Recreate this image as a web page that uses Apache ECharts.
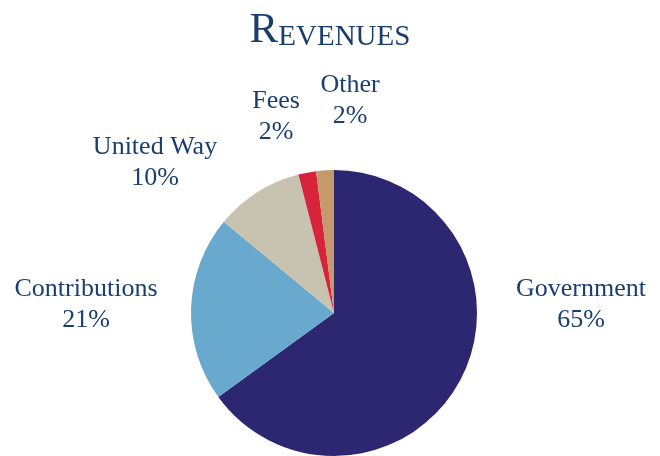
<!DOCTYPE html>
<html><head><meta charset="utf-8">
<script src="https://cdn.jsdelivr.net/npm/echarts@6/dist/echarts.min.js"></script>
<style>html,body{margin:0;padding:0;background:#fff}#c{width:660px;height:456px}</style>
</head><body><div id="c"></div>
<script>
const categories = ['Government', 'Contributions', 'United Way', 'Fees', 'Other'];
const values = [65, 21, 10, 2, 2];
const colors = ['#2c2770', '#68a9cd', '#c7c3b0', '#d8243a', '#c49a6c'];
const labelCentres = [[581, 305], [86, 305], [155, 163], [276, 117], [350, 101]];
const textColor = '#1a3f6f';
const font = '"Liberation Serif", "DejaVu Serif", serif';

const chart = echarts.init(document.getElementById('c'), null, {renderer: 'canvas'});
chart.setOption({
  animation: false,
  title: {
    text: '{a|R}{b|EVENUES}',
    left: 'center',
    top: 4,
    textStyle: {
      fontWeight: 'normal',
      rich: {
        a: {fontFamily: font, fontSize: 43, fontWeight: 'normal', color: textColor},
        b: {fontFamily: font, fontSize: 29, fontWeight: 'normal', color: textColor, verticalAlign: 'bottom'}
      }
    }
  },
  series: [{
    type: 'pie',
    center: [334, 313],
    radius: 143,
    startAngle: 90,
    clockwise: true,
    avoidLabelOverlap: false,
    data: categories.map((n, i) => ({name: n, value: values[i], itemStyle: {color: colors[i]}})),
    label: {
      show: true,
      position: 'outside',
      formatter: '{b}\n{c}%',
      fontFamily: font,
      fontSize: 26,
      lineHeight: 31,
      color: textColor,
      align: 'center',
      overflow: 'none',
      width: 200
    },
    labelLine: {show: false},
    labelLayout: function (p) {
      const c = labelCentres[p.dataIndex];
      return {x: c[0], y: c[1], align: 'center', verticalAlign: 'middle'};
    }
  }]
});
</script></body></html>
